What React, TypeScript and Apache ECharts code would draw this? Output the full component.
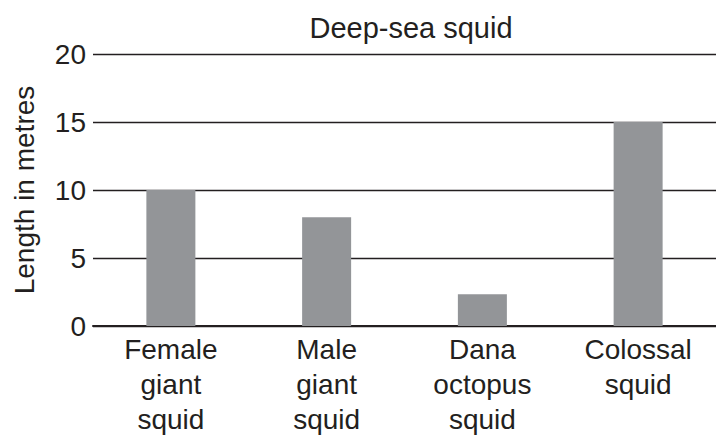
import React, { useEffect, useRef } from "react";
import * as echarts from "echarts";

const categories = ["Female\ngiant\nsquid", "Male\ngiant\nsquid", "Dana\noctopus\nsquid", "Colossal\nsquid"];
const lengths = [10, 8, 2.33, 15];
const yTicks = { min: 0, max: 20, interval: 5 };
const titleText = "Deep-sea squid";
const yAxisName = "Length in metres";

export default function App() {
  const ref = useRef<HTMLDivElement>(null);
  useEffect(() => {
    if (!ref.current) return;
    const chart = echarts.init(ref.current, null, { renderer: "svg" });
    const font = "'Liberation Sans', Arial, Helvetica, sans-serif";
    chart.setOption({
      animation: false,
      title: {
        text: titleText,
        left: 406,
        textAlign: "center",
        top: 8,
        textStyle: { fontFamily: font, fontSize: 29, fontWeight: "normal", color: "#231f20" },
      },
      grid: { left: 93, right: -8, top: 54, bottom: 437 - 329 },
      xAxis: {
        type: "category",
        data: categories,
        axisLine: { lineStyle: { color: "#231f20", width: 2 } },
        axisTick: { show: false },
        axisLabel: {
          fontFamily: font,
          fontSize: 28,
          color: "#231f20",
          lineHeight: 35,
          margin: 6,
          interval: 0,
        },
      },
      yAxis: {
        type: "value",
        min: yTicks.min,
        max: yTicks.max,
        interval: yTicks.interval,
        name: yAxisName,
        nameLocation: "middle",
        nameGap: 55,
        nameTextStyle: { fontFamily: font, fontSize: 28, color: "#231f20" },
        axisLine: { show: false },
        axisTick: { show: false },
        axisLabel: { fontFamily: font, fontSize: 28, color: "#231f20", margin: 7 },
        splitLine: { lineStyle: { color: "#231f20", width: 1.3 } },
      },
      series: [
        {
          type: "bar",
          data: lengths,
          barWidth: 49,
          itemStyle: { color: "#939598" },
        },
      ],
    });
    return () => chart.dispose();
  }, []);
  return <div ref={ref} style={{ width: 716, height: 437, position: "absolute", left: 0, top: 0 }} />;
}
